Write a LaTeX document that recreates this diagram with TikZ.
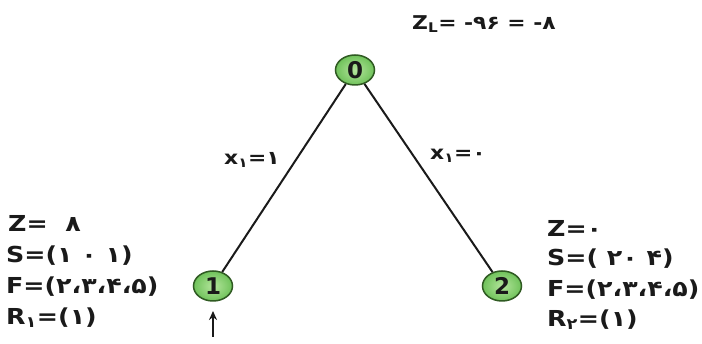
\documentclass[tikz,border=0pt]{standalone}
\usepackage{fontspec}
\setmainfont{DejaVu Sans}
\newfontfamily\widefont[FakeStretch=1.15]{DejaVu Sans}
\definecolor{nodeborder}{HTML}{2F5A22}
\definecolor{nodein}{HTML}{B4E59C}
\definecolor{nodeout}{HTML}{6FC25A}
\definecolor{txt}{HTML}{1A1A1A}
\usetikzlibrary{shapes.geometric,arrows.meta}
\tikzset{
  treenode/.style={ellipse, draw=nodeborder, line width=1.5pt, inner color=nodein, outer color=nodeout,
    minimum width=39pt, minimum height=30pt, inner sep=0pt, font=\fontsize{23}{23}\selectfont\bfseries, text=txt},
  info/.style={anchor=west, font=\widefont\fontsize{22}{22}\selectfont\bfseries, text=txt, inner sep=0pt},
  edge/.style={line width=2pt, draw=txt},
  lbl/.style={font=\widefont\fontsize{19}{19}\selectfont\bfseries, text=txt, inner sep=0pt}
}
\begin{document}
\begin{tikzpicture}[x=1pt,y=-1pt]
\useasboundingbox (0,0) rectangle (702,344);
\node[treenode] (n0) at (355,70) {0};
\node[treenode] (n1) at (213,286) {1};
\node[treenode] (n2) at (502,286) {2};
\draw[edge] (n0) -- (n1);
\draw[edge] (n0) -- (n2);
\node[lbl] (zl) at (484,24) {Z\textsubscript{L}= -۹۶ = -۸};
\node[lbl] (x1) at (252,160) {x\textsubscript{۱}=۱};
\node[lbl] (x2) at (458,156) {x\textsubscript{۱}=۰};
\node[info] (lz) at (8,223) {Z=\ \ ۸};
\node[info] (ls) at (6,256) {S=(۱ ۰ ۱)};
\node[info] (lf) at (6,287) {F=(۲،۳،۴،۵)};
\node[info] (lr) at (6,318) {R\textsubscript{۱}=(۱)};
\node[info] (rz) at (547,228) {Z=۰};
\node[info] (rs) at (547,259) {S=( ۲۰ ۴)};
\node[info] (rf) at (547,290) {F=(۲،۳،۴،۵)};
\node[info] (rr) at (547,320) {R\textsubscript{۲}=(۱)};
\coordinate (arrowfoot) at (213,337);
\draw[edge,-{Stealth[length=9pt,width=8pt]}] (arrowfoot) -- (213,311);
\end{tikzpicture}
\end{document}
